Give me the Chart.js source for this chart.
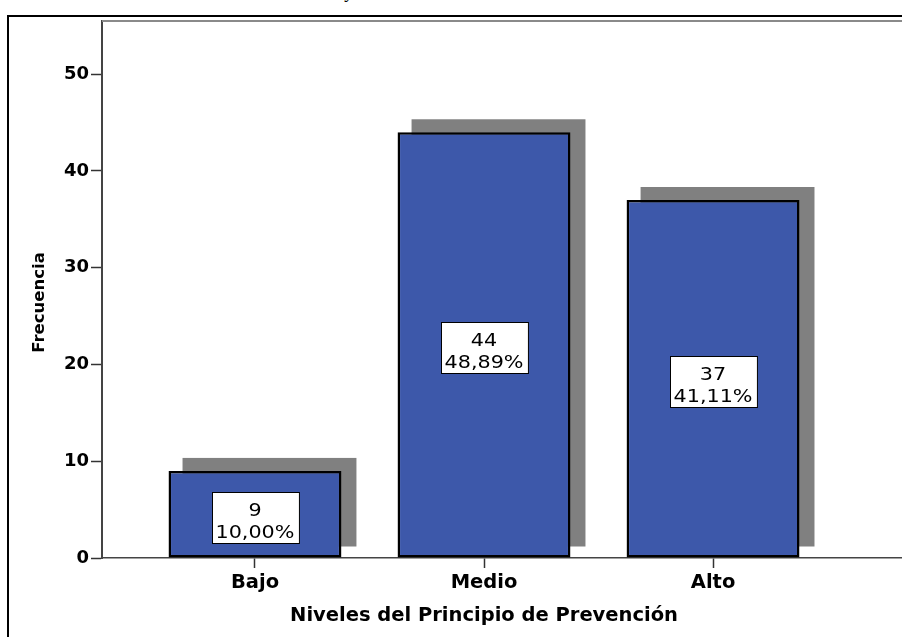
<!DOCTYPE html>
<html>
<head>
<meta charset="utf-8">
<script src="https://cdn.jsdelivr.net/npm/chart.js@4.4.1/dist/chart.umd.min.js"></script>
<style>
  html, body { margin: 0; padding: 0; overflow: hidden; background: #fff; }
  #wrap { position: relative; width: 1000px; height: 637px; }
  #frame { position: absolute; left: 7px; top: 15px; width: 1100px; height: 700px;
           border-top: 2px solid #000; border-left: 2px solid #000; }
  #cut { position: absolute; left: 346px; top: -17px; font: italic 18px "Liberation Serif"; line-height: 18px; }
  #box { position: absolute; left: 0; top: 0; width: 1000px; height: 637px; }
</style>
</head>
<body>
<div id="wrap">
  <div id="cut">y</div>
  <div id="frame"></div>
  <div id="box"><canvas id="chart"></canvas></div>
</div>
<script>
// values
const categories = ['Bajo', 'Medio', 'Alto'];
const frequencies = [9, 44, 37];
const percentLabels = ['10,00%', '48,89%', '41,11%'];
const yTickValues = [0, 10, 20, 30, 40, 50];
const xTitle = 'Niveles del Principio de Prevención';
const yTitle = 'Frecuencia';

const positions = categories.map((c, i) => i + 1);

// shadows, top border, value boxes and axis titles
const extras = {
  id: 'extras',
  beforeDatasetsDraw(chart) {
    const ctx = chart.ctx;
    const area = chart.chartArea;
    ctx.save();
    ctx.strokeStyle = '#8a8a8a';
    ctx.lineWidth = 2;
    ctx.beginPath();
    ctx.moveTo(area.left, area.top);
    ctx.lineTo(area.right, area.top);
    ctx.stroke();
    ctx.fillStyle = '#808080';
    chart.getDatasetMeta(0).data.forEach(bar => {
      const top = Math.min(bar.y, bar.base);
      const h = Math.abs(bar.base - bar.y);
      ctx.fillRect(bar.x - bar.width / 2 + 14, top - 13, bar.width + 1, h + 2);
    });
    ctx.restore();
  },
  afterDatasetsDraw(chart) {
    const ctx = chart.ctx;
    const sx = 1.15;
    ctx.save();
    ctx.font = '18px "DejaVu Sans"';
    chart.getDatasetMeta(0).data.forEach((bar, i) => {
      const lines = [String(frequencies[i]), percentLabels[i]];
      const tw = Math.max(...lines.map(t => ctx.measureText(t).width)) * sx;
      const w = tw + 8, h = 51;
      const cx = bar.x, cy = (bar.y + bar.base) / 2 + 3;
      const left = Math.round(cx - w / 2) + 0.5, top = Math.round(cy - h / 2) + 0.5;
      ctx.fillStyle = '#fff';
      ctx.fillRect(left, top, w, h);
      ctx.strokeStyle = '#000';
      ctx.lineWidth = 1;
      ctx.strokeRect(left, top, w, h);
      ctx.fillStyle = '#000';
      ctx.textAlign = 'center';
      ctx.textBaseline = 'alphabetic';
      lines.forEach((t, j) => {
        ctx.save();
        ctx.translate(cx, top + 23 + j * 22);
        ctx.scale(sx, 1);
        ctx.fillText(t, 0, 0);
        ctx.restore();
      });
    });
    ctx.restore();
  },
  afterDraw(chart) {
    const ctx = chart.ctx;
    const area = chart.chartArea;
    ctx.save();
    ctx.fillStyle = '#000';
    ctx.textAlign = 'center';
    ctx.textBaseline = 'alphabetic';
    ctx.font = 'bold 19.5px "DejaVu Sans"';
    ctx.fillText(xTitle, chart.scales.x.getPixelForValue(positions[1]), area.bottom + 63);
    ctx.translate(chart.scales.y.left + 44, (area.top + area.bottom) / 2 + 13);
    ctx.rotate(-Math.PI / 2);
    ctx.font = 'bold 16.5px "DejaVu Sans"';
    ctx.fillText(yTitle, 0, 0);
    ctx.restore();
  }
};

new Chart(document.getElementById('chart'), {
  type: 'bar',
  data: {
    datasets: [{
      data: positions.map((x, i) => ({ x, y: frequencies[i] })),
      backgroundColor: '#3d58aa',
      borderColor: '#000',
      borderWidth: 2.5,
      borderSkipped: false,
      barPercentage: 1,
      categoryPercentage: 0.755
    }]
  },
  options: {
    responsive: true,
    maintainAspectRatio: false,
    animation: false,
    layout: { padding: { top: 21, left: 0, right: 0, bottom: 0 } },
    plugins: { legend: { display: false }, tooltip: { enabled: false } },
    scales: {
      x: {
        type: 'linear',
        offset: false,
        min: 0.332,
        max: 4.253,
        afterBuildTicks: s => { s.ticks = positions.map(v => ({ value: v })); },
        afterFit: s => { s.height = 79; },
        ticks: {
          callback: v => categories[v - 1],
          font: { family: 'DejaVu Sans', size: 19.5, weight: 'bold' },
          color: '#000',
          padding: 3,
          maxRotation: 0,
          autoSkip: false
        },
        grid: { offset: false, drawOnChartArea: false, tickLength: 10, tickColor: '#333', tickWidth: 1.5 },
        border: { color: '#444', width: 1.5 }
      },
      y: {
        min: 0,
        max: 55.5,
        afterBuildTicks: s => { s.ticks = yTickValues.map(v => ({ value: v })); },
        afterFit: s => { s.width = 102; },
        ticks: {
          font: { family: 'DejaVu Sans', size: 18, weight: 'bold' },
          color: '#000',
          padding: 2
        },
        grid: { drawOnChartArea: false, tickLength: 11, tickColor: '#333', tickWidth: 1.5 },
        border: { color: '#444', width: 2 }
      }
    }
  },
  plugins: [extras]
});
</script>
</body>
</html>
